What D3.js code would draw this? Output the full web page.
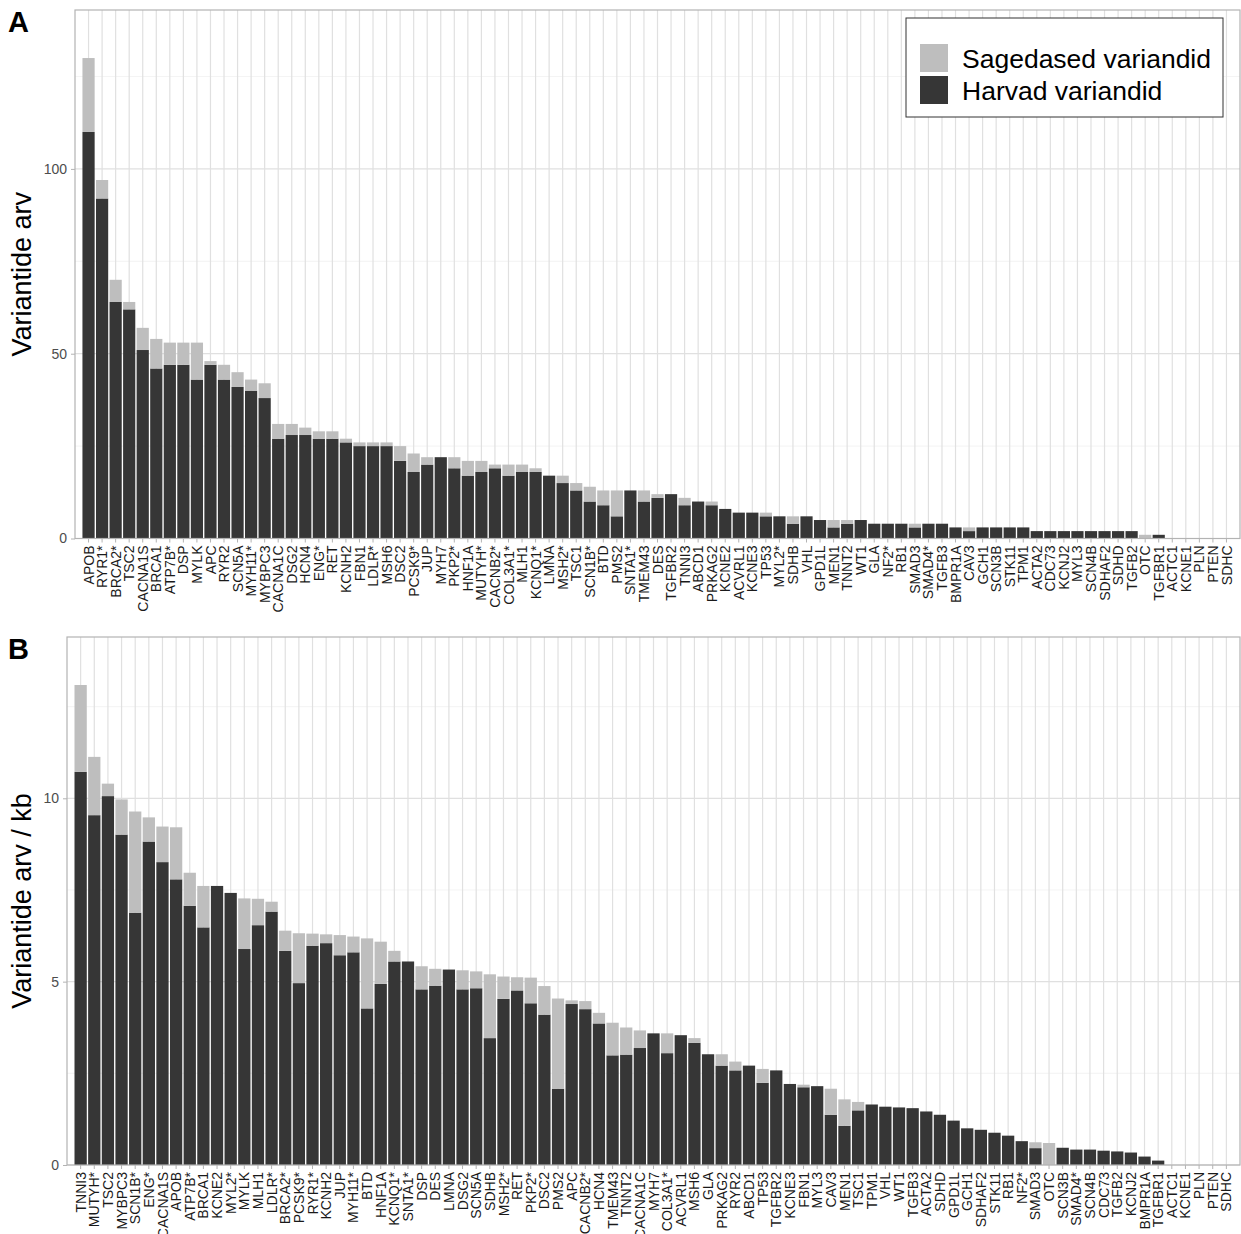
<!DOCTYPE html>
<html>
<head>
<meta charset="utf-8">
<script src="https://cdn.jsdelivr.net/npm/d3@7"></script>
<style>
  body { margin: 0; background: #fff; }
  svg { display: block; font-family: "Liberation Sans", Arial, sans-serif; }
</style>
</head>
<body>
<svg id="chart" width="1241" height="1234"></svg>
<script>
"use strict";

// Panel A: variants per gene
var genesA = ["APOB","RYR1*","BRCA2*","TSC2","CACNA1S","BRCA1","ATP7B*","DSP","MYLK","APC",
  "RYR2","SCN5A","MYH11*","MYBPC3","CACNA1C","DSG2","HCN4","ENG*","RET","KCNH2",
  "FBN1","LDLR*","MSH6","DSC2","PCSK9*","JUP","MYH7","PKP2*","HNF1A","MUTYH*",
  "CACNB2*","COL3A1*","MLH1","KCNQ1*","LMNA","MSH2*","TSC1","SCN1B*","BTD","PMS2",
  "SNTA1*","TMEM43","DES","TGFBR2","TNNI3","ABCD1","PRKAG2","KCNE2","ACVRL1","KCNE3",
  "TP53","MYL2*","SDHB","VHL","GPD1L","MEN1","TNNT2","WT1","GLA","NF2*",
  "RB1","SMAD3","SMAD4*","TGFB3","BMPR1A","CAV3","GCH1","SCN3B","STK11","TPM1",
  "ACTA2","CDC73","KCNJ2","MYL3","SCN4B","SDHAF2","SDHD","TGFB2","OTC","TGFBR1",
  "ACTC1","KCNE1","PLN","PTEN","SDHC"];
var harvadA = [110,92,64,62,51,46,47,47,43,47,
  43,41,40,38,27,28,28,27,27,26,
  25,25,25,21,18,20,22,19,17,18,
  19,17,18,18,17,15,13,10,9,6,
  13,10,11,12,9,10,9,8,7,7,
  6,6,4,6,5,3,4,5,4,4,
  4,3,4,4,3,2,3,3,3,3,
  2,2,2,2,2,2,2,2,0,1,
  0,0,0,0,0];
var sagedasedA = [20,5,6,2,6,8,6,6,10,1,
  4,4,3,4,4,3,2,2,2,1,
  1,1,1,4,5,2,0,3,4,3,
  1,3,2,1,0,2,2,4,4,7,
  0,3,1,0,2,0,1,0,0,0,
  1,0,2,0,0,2,1,0,0,0,
  0,1,0,0,0,1,0,0,0,0,
  0,0,0,0,0,0,0,0,1,0,
  0,0,0,0,0];
var ticksA = [0, 50, 100];
var minorA = [25, 75, 125];

// Panel B: variants per kb
var genesB = ["TNNI3","MUTYH*","TSC2","MYBPC3","SCN1B*","ENG*","CACNA1S","APOB","ATP7B*","BRCA1",
  "KCNE2","MYL2*","MYLK","MLH1","LDLR*","BRCA2*","PCSK9*","RYR1*","KCNH2","JUP",
  "MYH11*","BTD","HNF1A","KCNQ1*","SNTA1*","DSP","DES","LMNA","DSG2","SCN5A",
  "SDHB","MSH2*","RET","PKP2*","DSC2","PMS2","APC","CACNB2*","HCN4","TMEM43",
  "TNNT2","CACNA1C","MYH7","COL3A1*","ACVRL1","MSH6","GLA","PRKAG2","RYR2","ABCD1",
  "TP53","TGFBR2","KCNE3","FBN1","MYL3","CAV3","MEN1","TSC1","TPM1","VHL",
  "WT1","TGFB3","ACTA2","SDHD","GPD1L","GCH1","SDHAF2","STK11","RB1","NF2*",
  "SMAD3","OTC","SCN3B","SMAD4*","SCN4B","CDC73","TGFB2","KCNJ2","BMPR1A","TGFBR1",
  "ACTC1","KCNE1","PLN","PTEN","SDHC"];
var harvadB = [10.72,9.54,10.06,9.01,6.88,8.82,8.26,7.79,7.07,6.48,
  7.61,7.42,5.89,6.54,6.91,5.84,4.96,5.98,6.05,5.72,
  5.80,4.27,4.94,5.55,5.55,4.79,4.89,5.33,4.79,4.82,
  3.46,4.53,4.76,4.41,4.10,2.08,4.39,4.25,3.86,2.99,
  3.01,3.19,3.59,3.05,3.54,3.33,3.02,2.71,2.58,2.71,
  2.24,2.58,2.21,2.12,2.15,1.37,1.07,1.49,1.65,1.59,
  1.57,1.55,1.46,1.37,1.21,1.00,0.96,0.88,0.80,0.65,
  0.46,0,0.47,0.42,0.42,0.39,0.37,0.34,0.23,0.12,
  0,0,0,0,0];
var sagedasedB = [2.37,1.59,0.34,0.96,2.76,0.66,0.97,1.42,0.90,1.13,
  0,0,1.38,0.72,0.27,0.55,1.36,0.33,0.24,0.55,
  0.43,1.91,1.15,0.29,0,0.63,0.46,0,0.52,0.46,
  1.74,0.61,0.36,0.70,0.78,2.46,0.10,0.22,0.29,0.89,
  0.74,0.48,0,0.54,0,0.13,0,0.31,0.24,0,
  0.38,0,0,0.07,0,0.71,0.72,0.23,0,0,
  0,0,0,0,0,0,0,0,0,0,
  0.16,0.60,0,0,0,0,0,0,0,0,
  0,0,0,0,0];
var ticksB = [0, 5, 10];
var minorB = [2.5, 7.5, 12.5];

var seriesNames = ["Sagedased variandid", "Harvad variandid"];
var colors = { harvad: "#363636", sagedased: "#bebebe" };

var svg = d3.select("#chart");
svg.append("rect").attr("width", 1241).attr("height", 1234).attr("fill", "#fff");

/*
 * Draw one stacked bar panel
 */
function drawPanel(cfg) {
  var x = d3.scaleBand()
    .domain(cfg.genes)
    .range([cfg.left, cfg.right])
    .paddingInner(0.1)
    .paddingOuter(0.55);
  // ggplot style: gridlines at band centres, band width 0.9 of step
  var cx = function(g) { return x(g) + x.bandwidth() / 2; };

  var maxTotal = d3.max(cfg.genes, function(g, i) { return cfg.harvad[i] + cfg.sagedased[i]; });
  var y = d3.scaleLinear()
    .domain([0, maxTotal * 1.1])
    .range([cfg.bottom, cfg.top]);

  var g = svg.append("g");

  // minor horizontal grid
  g.selectAll(".minor").data(cfg.minor.filter(function(v) { return v < y.domain()[1]; }))
    .enter().append("line")
    .attr("x1", cfg.left).attr("x2", cfg.right)
    .attr("y1", function(d) { return y(d); }).attr("y2", function(d) { return y(d); })
    .attr("stroke", "#f0f0f0").attr("stroke-width", 0.8);

  // major horizontal grid
  g.selectAll(".major").data(cfg.ticks)
    .enter().append("line")
    .attr("x1", cfg.left).attr("x2", cfg.right)
    .attr("y1", function(d) { return y(d); }).attr("y2", function(d) { return y(d); })
    .attr("stroke", "#e0e0e0").attr("stroke-width", 1.2);

  // vertical grid
  g.selectAll(".vgrid").data(cfg.genes)
    .enter().append("line")
    .attr("x1", cx).attr("x2", cx)
    .attr("y1", cfg.top).attr("y2", cfg.bottom)
    .attr("stroke", "#e0e0e0").attr("stroke-width", 1.2);

  var rows = cfg.genes.map(function(gene, i) {
    return { gene: gene, harvad: cfg.harvad[i], sagedased: cfg.sagedased[i] };
  });
  var stack = d3.stack().keys(["harvad", "sagedased"])(rows);

  g.selectAll(".layer").data(stack)
    .enter().append("g")
    .attr("fill", function(d) { return colors[d.key]; })
    .selectAll("rect").data(function(d) { return d; })
    .enter().append("rect")
    .filter(function(d) { return d[1] - d[0] > 0; })
    .attr("x", function(d) { return x(d.data.gene); })
    .attr("width", x.bandwidth())
    .attr("y", function(d) { return y(d[1]); })
    .attr("height", function(d) { return y(d[0]) - y(d[1]); });

  // panel border
  g.append("rect")
    .attr("x", cfg.left).attr("y", cfg.top)
    .attr("width", cfg.right - cfg.left).attr("height", cfg.bottom - cfg.top)
    .attr("fill", "none").attr("stroke", "#b3b3b3").attr("stroke-width", 1.2);

  // y axis
  var yAxis = d3.axisLeft(y).tickValues(cfg.ticks).tickSize(4).tickPadding(4).tickFormat(d3.format("d"));
  var ya = g.append("g").attr("transform", "translate(" + cfg.left + ",0)").call(yAxis);
  ya.select(".domain").remove();
  ya.selectAll(".tick line").attr("stroke", "#b3b3b3");
  ya.selectAll(".tick text").attr("fill", "#4d4d4d").style("font-size", "14px")
    .style("font-family", "Liberation Sans, Arial, sans-serif");

  // x axis
  var xAxis = d3.axisBottom(x).tickSize(4).tickPadding(3);
  var xa = g.append("g").attr("transform", "translate(0," + cfg.bottom + ")").call(xAxis);
  xa.select(".domain").remove();
  xa.selectAll(".tick line").attr("stroke", "#b3b3b3");
  xa.selectAll(".tick text")
    .attr("fill", "#1a1a1a")
    .style("font-size", "14px")
    .style("font-family", "Liberation Sans, Arial, sans-serif")
    .attr("text-anchor", "end")
    .attr("transform", "rotate(-90)")
    .attr("x", -7)
    .attr("y", 0)
    .attr("dy", "0.36em");

  // y title
  svg.append("text")
    .attr("transform", "translate(" + cfg.titleX + "," + ((cfg.top + cfg.bottom) / 2) + ")rotate(-90)")
    .attr("text-anchor", "middle")
    .attr("fill", "#000")
    .style("font-size", "27px")
    .text(cfg.yTitle);

  // panel tag
  svg.append("text")
    .attr("x", 8).attr("y", cfg.tagY)
    .style("font-size", "29px").style("font-weight", "bold")
    .text(cfg.tag);

  return { x: x, y: y };
}

drawPanel({
  genes: genesA, harvad: harvadA, sagedased: sagedasedA,
  ticks: ticksA, minor: minorA,
  left: 75, right: 1240, top: 10, bottom: 538.5,
  yTitle: "Variantide arv", titleX: 31, tag: "A", tagY: 32
});

drawPanel({
  genes: genesB, harvad: harvadB, sagedased: sagedasedB,
  ticks: ticksB, minor: minorB,
  left: 67, right: 1240, top: 637, bottom: 1165,
  yTitle: "Variantide arv / kb", titleX: 31, tag: "B", tagY: 659
});

/*
 * Legend
 */
var legend = svg.append("g").attr("transform", "translate(906,18)");
legend.append("rect")
  .attr("width", 317).attr("height", 99)
  .attr("fill", "#fff").attr("stroke", "#333").attr("stroke-width", 1);

var items = legend.selectAll(".legend").data(seriesNames)
  .enter().append("g")
  .attr("transform", function(d, i) { return "translate(14," + (26 + i * 32) + ")"; });
items.append("rect")
  .attr("width", 28).attr("height", 28)
  .attr("fill", function(d, i) { return i === 0 ? colors.sagedased : colors.harvad; });
items.append("text")
  .attr("x", 42).attr("y", 14).attr("dy", "0.36em")
  .style("font-size", "26.5px")
  .attr("fill", "#000")
  .text(function(d) { return d; });
</script>
</body>
</html>
